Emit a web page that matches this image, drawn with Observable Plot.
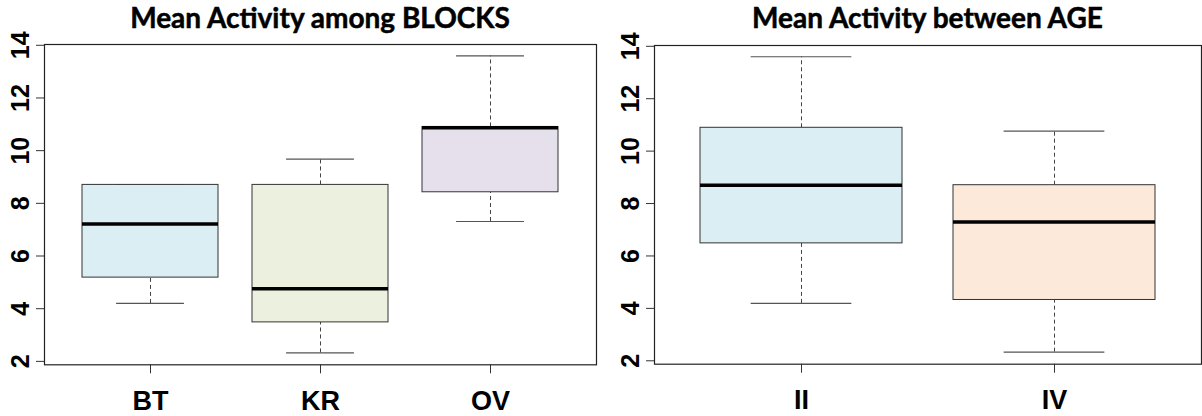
<!DOCTYPE html>
<html><head><meta charset="utf-8">
<script src="https://cdn.jsdelivr.net/npm/d3@7"></script>
<script src="https://cdn.jsdelivr.net/npm/@observablehq/plot@0.6"></script>
<style>
html,body{margin:0;padding:0;background:#fff;}
#wrap{position:relative;width:1202px;height:416px;overflow:hidden;}
.panel{position:absolute;top:0;}
.title{height:34px;font-family:Lato,"Open Sans",sans-serif;font-weight:700;font-size:28px;line-height:34px;white-space:nowrap;text-align:center;color:#000;box-sizing:border-box;-webkit-text-stroke:0.5px #000;}
.panel svg{display:block;margin-top:-8px;overflow:visible;}
</style></head><body><div id="wrap"></div>
<script>
// Panel 1: BLOCKS
const blocks = ["BT", "KR", "OV"];
const blockMin = [4.20, 2.32, 7.31];
const blockQ1  = [5.18, 3.48, 8.42];
const blockMed = [7.22, 4.76, 10.87];
const blockQ3  = [8.70, 8.70, 10.90];
const blockMax = [8.70, 9.68, 13.60];
const blockColors = ["#DAEEF3", "#EBF1DE", "#E5E0EC"];

// Panel 2: AGE
const ages = ["II", "IV"];
const ageMin = [4.19, 2.33];
const ageQ1  = [6.48, 4.32];
const ageMed = [8.70, 7.30];
const ageQ3  = [10.89, 8.70];
const ageMax = [13.60, 10.76];
const ageColors = ["#DAEEF3", "#FDE9D9"];

const yTicks = [2, 4, 6, 8, 10, 12, 14];
const yDomain = [1.87, 14.03];

function boxPanel(cfg) {
  const {title, cats, mins, q1s, meds, q3s, maxs, colors, left, width,
         marginLeft, marginRight, marginTop, marginBottom, paddingOuter} = cfg;
  const rows = cats.map((c, i) => ({cat: c, min: mins[i], q1: q1s[i], med: meds[i], q3: q3s[i], max: maxs[i]}));
  const height = 390;
  const n = cats.length;
  const step = (width - marginLeft - marginRight) / (n - 0.2 + 2 * paddingOuter);
  const bw = step * 0.8;
  const capInset = bw / 4;
  const chart = Plot.plot({
    width, height, marginLeft, marginRight, marginTop, marginBottom,
    style: {fontFamily: "'Liberation Sans', Arial, sans-serif", fontWeight: "bold", color: "#000", background: "transparent"},
    x: {type: "band", domain: cats, paddingInner: 0.2, paddingOuter, label: null},
    y: {domain: yDomain, label: null},
    color: {domain: cats, range: colors},
    marks: [
      Plot.ruleX(rows, {x: "cat", y1: "q3", y2: "max", stroke: "#444", strokeDasharray: "4,3"}),
      Plot.ruleX(rows, {x: "cat", y1: "min", y2: "q1", stroke: "#444", strokeDasharray: "4,3"}),
      Plot.tickY(rows, {x: "cat", y: "max", stroke: "#555", strokeWidth: 1.2, insetLeft: capInset, insetRight: capInset}),
      Plot.tickY(rows, {x: "cat", y: "min", stroke: "#555", strokeWidth: 1.2, insetLeft: capInset, insetRight: capInset}),
      Plot.barY(rows, {x: "cat", y1: "q1", y2: "q3", fill: "cat", stroke: "#333", strokeWidth: 1}),
      Plot.tickY(rows, {x: "cat", y: "med", stroke: "#000", strokeWidth: 3.5}),
      Plot.frame({stroke: "#222", strokeWidth: 1.2}),
      Plot.axisY({ticks: yTicks, tickRotate: -90, tickSize: 8, tickPadding: 8, fontSize: 25, stroke: "#333"}),
      Plot.axisX({tickSize: 9, tickPadding: 17, fontSize: 27, stroke: "#333"})
    ]
  });
  const panel = document.createElement("div");
  panel.className = "panel";
  panel.style.left = left + "px";
  panel.style.width = width + "px";
  const t = document.createElement("div");
  t.className = "title";
  t.style.paddingLeft = marginLeft + "px";
  t.style.paddingRight = marginRight + "px";
  t.textContent = title;
  panel.appendChild(t);
  panel.appendChild(chart);
  document.getElementById("wrap").appendChild(panel);
}

boxPanel({title: "Mean Activity among BLOCKS", cats: blocks, mins: blockMin, q1s: blockQ1, meds: blockMed, q3s: blockQ3, maxs: blockMax, colors: blockColors,
  left: 0, width: 600, marginLeft: 44, marginRight: 4, marginTop: 18, marginBottom: 51.7, paddingOuter: 0.22});
boxPanel({title: "Mean Activity between AGE", cats: ages, mins: ageMin, q1s: ageQ1, meds: ageMed, q3s: ageQ3, maxs: ageMax, colors: ageColors,
  left: 600, width: 602, marginLeft: 54, marginRight: 1, marginTop: 19, marginBottom: 52.3, paddingOuter: 0.18});
</script>
</body></html>
